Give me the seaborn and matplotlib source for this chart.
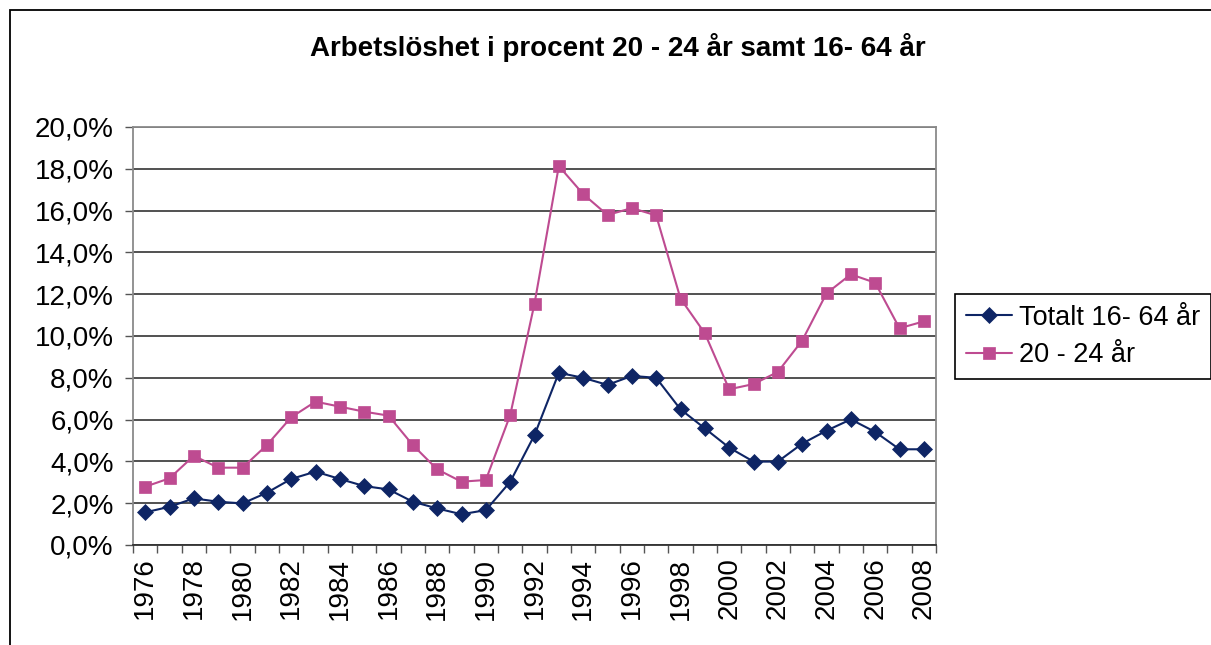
import matplotlib
matplotlib.use("Agg")
import matplotlib.pyplot as plt
import matplotlib.ticker as mticker
from matplotlib.patches import Rectangle
import seaborn as sns
import numpy as np
import pandas as pd


# data (percent)
years = list(range(1976, 2009))
total_16_64 = [1.56, 1.83, 2.23, 2.07, 1.99, 2.50, 3.16, 3.51, 3.16, 2.82,
               2.66, 2.07, 1.75, 1.47, 1.67, 3.02, 5.26, 8.24, 8.00, 7.66,
               8.09, 8.00, 6.49, 5.58, 4.66, 3.99, 3.99, 4.85, 5.47, 6.01,
               5.41, 4.58, 4.58]
youth_20_24 = [2.79, 3.19, 4.27, 3.70, 3.70, 4.78, 6.11, 6.86, 6.62, 6.38,
               6.19, 4.78, 3.62, 3.03, 3.11, 6.21, 11.55, 18.13, 16.79, 15.79,
               16.12, 15.77, 11.79, 10.13, 7.45, 7.70, 8.28, 9.78, 12.04, 12.95,
               12.55, 10.37, 10.70]
series_names = ["Totalt 16- 64 år", "20 - 24 år"]
title = "Arbetslöshet i procent 20 - 24 år samt 16- 64 år"

df = pd.concat([
    pd.DataFrame({"year": years, "value": total_16_64, "serie": series_names[0]}),
    pd.DataFrame({"year": years, "value": youth_20_24, "serie": series_names[1]}),
])

sns.set_theme(style="white")
plt.rcParams["font.family"] = ["Liberation Sans", "DejaVu Sans"]
plt.rcParams["text.color"] = "black"

W, H = 1211, 645
fig = plt.figure(figsize=(W / 100, H / 100), dpi=100)
ax = fig.add_axes([133 / W, 1 - 545 / H, (936 - 133) / W, (545 - 127) / H])

colors = {series_names[0]: "#0E2565", series_names[1]: "#BE4B91"}
sns.lineplot(
    data=df, x="year", y="value", hue="serie", style="serie",
    hue_order=series_names, style_order=series_names,
    palette=colors, markers={series_names[0]: "D", series_names[1]: "s"},
    dashes=False, markersize=8.5, linewidth=1.5, legend=False, ax=ax,
)
for line in ax.lines:
    line.set_markeredgecolor(line.get_color())
    line.set_markeredgewidth(0.5)

# axes
ax.set_xlim(years[0] - 0.5, years[-1] + 0.5)
ax.set_ylim(0, 20)
ax.set_xlabel("")
ax.set_ylabel("")
ax.yaxis.set_major_locator(mticker.MultipleLocator(2))
ax.yaxis.set_major_formatter(
    mticker.FuncFormatter(lambda v, p: f"{v:.1f}%".replace(".", ","))
)
ax.set_xticks(years[::2])
ax.set_xticklabels([str(y) for y in years[::2]], rotation=90)
ax.set_xticks(np.arange(years[0] - 0.5, years[-1] + 1), minor=True)
ax.tick_params(axis="x", which="major", length=0, pad=9, labelsize=20,
               labelcolor="black", bottom=True)
ax.tick_params(axis="x", which="minor", length=6, width=1, color="#555555",
               direction="out", bottom=True)
ax.tick_params(axis="y", which="major", length=6, width=1, color="#555555",
               direction="out", pad=8, labelsize=20, labelcolor="black", left=True)

ax.grid(axis="y", color="#333333", linewidth=1.2)
ax.set_axisbelow(True)
for side in ["left", "right", "top"]:
    ax.spines[side].set_color("#8a8a8a")
    ax.spines[side].set_linewidth(1.3)
ax.spines["bottom"].set_color("#333333")
ax.spines["bottom"].set_linewidth(1.3)

# legend
leg = ax.legend(
    handles=ax.lines[:2], labels=series_names,
    loc="upper left", bbox_to_anchor=(955 / W, 1 - 294 / H),
    bbox_transform=fig.transFigure, borderaxespad=0,
    frameon=True, fancybox=False, edgecolor="black", framealpha=1,
    fontsize=19.5, handlelength=1.7, handletextpad=0.25,
    borderpad=0.4, labelspacing=0.42,
)
leg.get_frame().set_linewidth(1.2)
for t in leg.get_texts():
    t.set_color("black")

# title and outer chart frame
fig.text(618 / W, 1 - 48 / H, title, ha="center", va="center",
         fontsize=20, fontweight="bold", color="black")
fig.patches.append(Rectangle((10 / W, -0.1), 1.2, 1.1 - 10 / H,
                             transform=fig.transFigure, fill=False,
                             edgecolor="black", linewidth=1.3))

fig.savefig("out.png", dpi=100)
